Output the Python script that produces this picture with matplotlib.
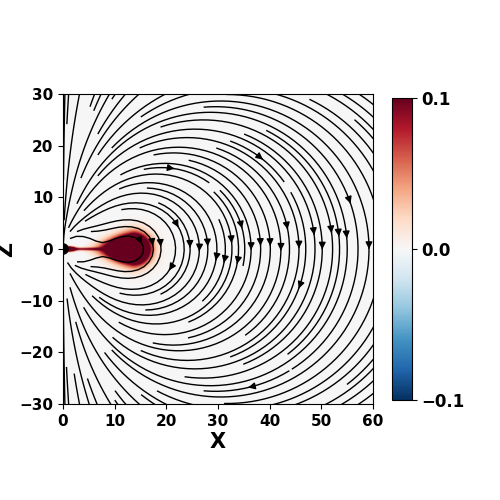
import numpy as np
import matplotlib
matplotlib.use("Agg")
import matplotlib.pyplot as plt
from matplotlib.patches import Circle

# ---- model parameters ----
x_range = [0, 60]
z_range = [-30, 30]
field_x_range = [0, 120]        # streamlines integrated on a larger box
field_z_range = [-60, 60]
blob_center = [13.6, 0.0]
blob_amp = 1.2
blob_power = 1.3
blob_width_right = 1.6
blob_width_left = 2.9
blob_height = 1.5
tail_tip = 3.5
sheet_amp = 0.09
sheet_thickness = 0.25
sheet_end = 9.0
inner_amp = 0.6
inner_center = 1.0
inner_width = [1.0, 0.35]
current_scale = 1.0
dipole_moment = 35.0
planet_radius = 1.0
cbar_ticks = [-0.1, 0.0, 0.1]
vlim = 0.1


def current_density(X, Z):
    xc, zc = blob_center
    a = np.where(X >= xc, blob_width_right, blob_width_left)
    taper = np.clip((X - tail_tip) / (xc - tail_tip), 0.02, 1.0)
    b = np.where(X >= xc, blob_height, blob_height * np.sqrt(taper))
    d2 = ((X - xc) / a) ** 2 + ((Z - zc) / b) ** 2
    J = blob_amp * np.exp(-d2 ** (blob_power / 2))
    J += sheet_amp * np.exp(-(Z / sheet_thickness) ** 2) * (X < sheet_end) * (X > 0)
    J += inner_amp * np.exp(-((X - inner_center) / inner_width[0]) ** 2
                            - (Z / inner_width[1]) ** 2)
    return J


# ---- colour field ----
x = np.linspace(x_range[0], x_range[1], 361)
z = np.linspace(z_range[0], z_range[1], 361)
X, Z = np.meshgrid(x, z)
J = current_density(X, Z)

# ---- magnetic field: dipole + current ring (mirrored at -x) ----
xs = np.linspace(field_x_range[0], field_x_range[1], 241)
zs = np.linspace(field_z_range[0], field_z_range[1], 241)
XS, ZS = np.meshgrid(xs, zs)
R2 = XS ** 2 + ZS ** 2 + 1e-9
Bx = dipole_moment * 2 * XS * ZS / R2 ** 2
Bz = dipole_moment * (ZS ** 2 - XS ** 2) / R2 ** 2

hs = 0.25
sx = np.arange(0, 24, hs) + hs / 2
sz = np.arange(-10, 10, hs) + hs / 2
SX, SZ = np.meshgrid(sx, sz)
SJ = current_density(SX, SZ)
m = SJ > 2e-4
srcx = np.concatenate([SX[m], -SX[m]])
srcz = np.concatenate([SZ[m], SZ[m]])
srcI = current_scale * np.concatenate([SJ[m], -SJ[m]]) * hs * hs / (2 * np.pi)
eps2 = 0.25 ** 2
step = 120
for i in range(0, srcx.size, step):
    px = srcx[i:i + step][:, None, None]
    pz = srcz[i:i + step][:, None, None]
    pI = srcI[i:i + step][:, None, None]
    dx = XS[None] - px
    dz = ZS[None] - pz
    w = pI / (dx ** 2 + dz ** 2 + eps2)
    Bx += np.sum(w * dz, axis=0)
    Bz -= np.sum(w * dx, axis=0)

inside = R2 < planet_radius ** 2
Bx = np.ma.masked_where(inside, Bx)
Bz = np.ma.masked_where(inside, Bz)

# ---- figure ----
plt.rcParams['font.weight'] = 'bold'
fig = plt.figure(figsize=(5, 5), dpi=100)
ax = fig.add_axes([63 / 500, 96 / 500, 310 / 500, 310 / 500])
im = ax.imshow(J, extent=[x_range[0], x_range[1], z_range[0], z_range[1]],
               origin='lower', cmap='RdBu_r', vmin=-vlim, vmax=vlim,
               interpolation='bilinear', aspect='auto')
ax.streamplot(xs, zs, Bx, Bz, color='k', linewidth=1.0, density=3.0,
              arrowsize=1.0)
ax.add_patch(Circle((0, 0), planet_radius, color='k', zorder=5))
ax.set_xlim(x_range)
ax.set_ylim(z_range)
ax.set_xticks([0, 10, 20, 30, 40, 50, 60])
ax.set_yticks([-30, -20, -10, 0, 10, 20, 30])
ax.tick_params(labelsize=11)
for lab in ax.get_xticklabels() + ax.get_yticklabels():
    lab.set_fontweight('bold')
ax.set_xlabel('X', fontsize=15, fontweight='bold', labelpad=2)
ax.set_ylabel('Z', fontsize=15, fontweight='bold', labelpad=2)

cax = fig.add_axes([392 / 500, 100 / 500, 20 / 500, 302 / 500])
cb = fig.colorbar(im, cax=cax, ticks=cbar_ticks)
cb.ax.tick_params(labelsize=12)
for lab in cb.ax.get_yticklabels():
    lab.set_fontweight('bold')

fig.savefig('out.png', dpi=100)
